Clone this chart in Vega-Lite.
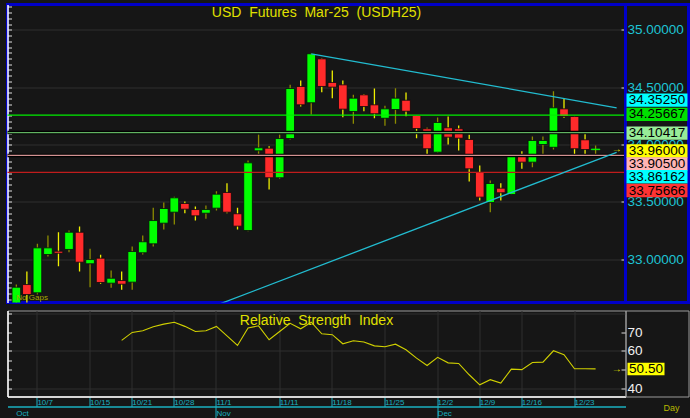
{
  "$schema": "https://vega.github.io/schema/vega-lite/v6.json",
  "background": "#161616",
  "padding": {"left": 3.5, "top": 2.5, "right": 4, "bottom": 0},
  "spacing": 5,
  "datasets": {
    "px": [
      {"d":"10/3","o":32.60,"h":32.779,"l":32.57,"c":32.756},
      {"d":"10/4","o":32.779,"h":32.893,"l":32.58,"c":32.692},
      {"d":"10/7","o":32.707,"h":33.134,"l":32.692,"c":33.099},
      {"d":"10/8","o":33.041,"h":33.207,"l":33.024,"c":33.099},
      {"d":"10/9","o":33.070,"h":33.235,"l":32.939,"c":33.052},
      {"d":"10/10","o":33.085,"h":33.250,"l":33.061,"c":33.235},
      {"d":"10/11","o":33.235,"h":33.285,"l":32.893,"c":32.974},
      {"d":"10/15","o":32.960,"h":33.091,"l":32.756,"c":32.997},
      {"d":"10/16","o":33.009,"h":33.038,"l":32.786,"c":32.797},
      {"d":"10/17","o":32.791,"h":32.901,"l":32.751,"c":32.834},
      {"d":"10/18","o":32.814,"h":32.893,"l":32.733,"c":32.782},
      {"d":"10/21","o":32.800,"h":33.111,"l":32.733,"c":33.067},
      {"d":"10/22","o":33.056,"h":33.207,"l":33.041,"c":33.152},
      {"d":"10/24","o":33.134,"h":33.448,"l":33.111,"c":33.337},
      {"d":"10/25","o":33.314,"h":33.494,"l":33.259,"c":33.442},
      {"d":"10/28","o":33.410,"h":33.545,"l":33.303,"c":33.535},
      {"d":"10/29","o":33.486,"h":33.503,"l":33.401,"c":33.436},
      {"d":"10/30","o":33.433,"h":33.459,"l":33.337,"c":33.378},
      {"d":"10/31","o":33.401,"h":33.468,"l":33.352,"c":33.433},
      {"d":"11/1","o":33.445,"h":33.593,"l":33.425,"c":33.567},
      {"d":"11/4","o":33.582,"h":33.663,"l":33.401,"c":33.410},
      {"d":"11/5","o":33.396,"h":33.448,"l":33.259,"c":33.288},
      {"d":"11/6","o":33.250,"h":33.860,"l":33.244,"c":33.840},
      {"d":"11/7","o":33.945,"h":34.087,"l":33.895,"c":33.971},
      {"d":"11/8","o":33.968,"h":33.985,"l":33.608,"c":33.710},
      {"d":"11/11","o":33.710,"h":34.087,"l":33.701,"c":34.052},
      {"d":"11/12","o":34.052,"h":34.520,"l":34.044,"c":34.488},
      {"d":"11/13","o":34.506,"h":34.558,"l":34.331,"c":34.346},
      {"d":"11/14","o":34.364,"h":34.795,"l":34.262,"c":34.791},
      {"d":"11/15","o":34.747,"h":34.752,"l":34.456,"c":34.506},
      {"d":"11/18","o":34.541,"h":34.645,"l":34.404,"c":34.500},
      {"d":"11/19","o":34.520,"h":34.558,"l":34.238,"c":34.308},
      {"d":"11/20","o":34.288,"h":34.433,"l":34.180,"c":34.404},
      {"d":"11/21","o":34.433,"h":34.440,"l":34.290,"c":34.331},
      {"d":"11/22","o":34.346,"h":34.488,"l":34.229,"c":34.268},
      {"d":"11/25","o":34.229,"h":34.337,"l":34.163,"c":34.311},
      {"d":"11/26","o":34.305,"h":34.491,"l":34.180,"c":34.404},
      {"d":"11/27","o":34.386,"h":34.453,"l":34.247,"c":34.290},
      {"d":"11/28","o":34.253,"h":34.258,"l":34.055,"c":34.139},
      {"d":"11/29","o":34.137,"h":34.145,"l":33.898,"c":33.963},
      {"d":"12/2","o":33.933,"h":34.235,"l":33.928,"c":34.192},
      {"d":"12/3","o":34.146,"h":34.244,"l":34.000,"c":34.064},
      {"d":"12/4","o":34.137,"h":34.166,"l":33.948,"c":34.055},
      {"d":"12/6","o":34.044,"h":34.085,"l":33.677,"c":33.788},
      {"d":"12/9","o":33.756,"h":33.817,"l":33.512,"c":33.541},
      {"d":"12/11","o":33.494,"h":33.686,"l":33.410,"c":33.660},
      {"d":"12/12","o":33.619,"h":33.663,"l":33.512,"c":33.579},
      {"d":"12/13","o":33.564,"h":33.910,"l":33.560,"c":33.898},
      {"d":"12/16","o":33.904,"h":33.942,"l":33.788,"c":33.846},
      {"d":"12/17","o":33.846,"h":34.070,"l":33.802,"c":34.035},
      {"d":"12/18","o":34.000,"h":34.070,"l":33.910,"c":34.035},
      {"d":"12/19","o":33.976,"h":34.465,"l":33.956,"c":34.320},
      {"d":"12/20","o":34.311,"h":34.398,"l":34.233,"c":34.244},
      {"d":"12/23","o":34.244,"h":34.248,"l":33.904,"c":33.963},
      {"d":"12/24","o":34.041,"h":34.093,"l":33.913,"c":33.956},
      {"d":"12/25","o":33.955,"h":33.991,"l":33.895,"c":33.960}
    ],
    "rsi": [
      {"d":"10/18","r":65.6},{"d":"10/21","r":69.8},{"d":"10/22","r":70.7},{"d":"10/24","r":72.8},
      {"d":"10/25","r":74.2},{"d":"10/28","r":75.2},{"d":"10/29","r":73.0},{"d":"10/30","r":70.3},
      {"d":"10/31","r":70.7},{"d":"11/1","r":73.0},{"d":"11/4","r":68.0},{"d":"11/5","r":62.9},
      {"d":"11/6","r":72.1},{"d":"11/7","r":73.3},{"d":"11/8","r":65.9},{"d":"11/11","r":70.3},
      {"d":"11/12","r":74.6},{"d":"11/13","r":71.7},{"d":"11/14","r":75.2},{"d":"11/15","r":69.1},
      {"d":"11/18","r":68.6},{"d":"11/19","r":63.8},{"d":"11/20","r":65.4},{"d":"11/21","r":64.7},
      {"d":"11/22","r":62.7},{"d":"11/25","r":62.2},{"d":"11/26","r":63.6},{"d":"11/27","r":60.6},
      {"d":"11/28","r":56.2},{"d":"11/29","r":52.3},{"d":"12/2","r":56.6},{"d":"12/3","r":53.7},
      {"d":"12/4","r":53.4},{"d":"12/6","r":47.4},{"d":"12/9","r":42.1},{"d":"12/11","r":44.8},
      {"d":"12/12","r":43.0},{"d":"12/13","r":50.4},{"d":"12/16","r":50.1},{"d":"12/17","r":53.9},
      {"d":"12/18","r":54.1},{"d":"12/19","r":60.1},{"d":"12/20","r":58.0},{"d":"12/23","r":50.6},
      {"d":"12/24","r":50.6},{"d":"12/25","r":50.5}
    ],
    "lv": [
      {"k":"L1","v":34.25667},{"k":"L2","v":34.10417},{"k":"L3","v":33.905},{"k":"L4","v":33.75666}
    ],
    "tr": [
      {"k":"TU","d":"11/14","v":34.791},{"k":"TU","d":"12/27","v":34.320},
      {"k":"TL","d":"11/1","v":32.599},{"k":"TL","d":"12/27","v":33.932}
    ],
    "tags": [
      {"k":"TU","v":34.3525},{"k":"L1","v":34.25667},{"k":"L2","v":34.10417},{"k":"LAST","v":33.96},
      {"k":"L3","v":33.905},{"k":"TL","v":33.86162},{"k":"L4","v":33.75666}
    ],
    "lastpx": [{"d":"12/27","v":33.96}],
    "rsilast": [{"d":"12/27","r":50.5}]
  },
  "vconcat": [
    {
      "hconcat": [
        {
          "width": 618,
          "height": 298,
          "view": {"stroke": "#0000c8", "strokeWidth": 3},
          "resolve": {"axis": {"y": "independent"}},
          "layer": [
            {
              "data": {"name": "px"},
              "mark": {"type": "rule", "strokeWidth": 1.3, "clip": true},
              "encoding": {
                "x": {"field": "d", "type": "ordinal",
                  "scale": {"type": "band", "domain": ["10/3","10/4","10/7","10/8","10/9","10/10","10/11","10/15","10/16","10/17","10/18","10/21","10/22","10/24","10/25","10/28","10/29","10/30","10/31","11/1","11/4","11/5","11/6","11/7","11/8","11/11","11/12","11/13","11/14","11/15","11/18","11/19","11/20","11/21","11/22","11/25","11/26","11/27","11/28","11/29","12/2","12/3","12/4","12/6","12/9","12/11","12/12","12/13","12/16","12/17","12/18","12/19","12/20","12/23","12/24","12/25","12/26","12/27"], "paddingInner": 0, "paddingOuter": 0.34},
                  "axis": {"values": ["10/7","10/15","10/21","10/28","11/1","11/11","11/18","11/25","12/2","12/9","12/16","12/23"], "grid": true, "gridColor": "#2f2f2f", "bandPosition": 0.5, "labels": false, "ticks": false, "domain": false, "title": null, "maxExtent": 0}},
                "y": {"field": "l", "type": "quantitative",
                  "scale": {"domain": [32.6225, 35.2206], "nice": false, "zero": false},
                  "axis": {"orient": "left", "title": null, "labels": false, "tickSize": -4, "tickColor": "#e0e0e0", "domainColor": "#ffffff", "domainWidth": 1.5, "minExtent": 0, "maxExtent": 0,
                    "values": [32.65,32.7,32.75,32.8,32.85,32.9,32.95,33,33.05,33.1,33.15,33.2,33.25,33.3,33.35,33.4,33.45,33.5,33.55,33.6,33.65,33.7,33.75,33.8,33.85,33.9,33.95,34,34.05,34.1,34.15,34.2,34.25,34.3,34.35,34.4,34.45,34.5,34.55,34.6,34.65,34.7,34.75,34.8,34.85,34.9,34.95,35,35.05,35.1,35.15,35.2],
                    "grid": true, "gridColor": "#2f2f2f",
                    "gridOpacity": {"condition": {"test": "abs(datum.value*2-round(datum.value*2))<0.001", "value": 1}, "value": 0}}},
                "y2": {"field": "h"},
                "color": {"condition": {"test": "datum.c >= datum.o", "value": "#8c8c00"}, "value": "#f0f000"}
              }
            },
            {
              "data": {"name": "px"},
              "mark": {"type": "bar", "width": {"band": 0.82}, "clip": true, "strokeWidth": 0.8},
              "encoding": {
                "x": {"field": "d", "type": "ordinal", "axis": null},
                "y": {"field": "o", "type": "quantitative",
                  "axis": {"orient": "right", "title": null, "domain": false, "grid": false, "tickSize": -4.5, "tickColor": "#d8d8d8",
                    "values": [33, 33.5, 34, 34.5, 35], "format": ".5f",
                    "labelAlign": "left", "labelPadding": 6, "labelColor": "#1ec4d4", "labelFontSize": 13.5, "labelOverlap": false}},
                "y2": {"field": "c"},
                "fill": {"condition": {"test": "datum.c >= datum.o", "value": "#00ff00"}, "value": "#ff2a2a"},
                "stroke": {"condition": {"test": "abs(datum.c-datum.o)<0.01", "value": "#00ff00"}, "value": "#0a0a0a"}
              }
            },
            {
              "data": {"name": "lv"},
              "transform": [{"filter": "datum.k==='L2' || datum.k==='L3'"}],
              "mark": {"type": "rule", "strokeWidth": 3.5, "color": "#000000"},
              "encoding": {"y": {"field": "v", "type": "quantitative", "axis": null}}
            },
            {
              "data": {"name": "lv"},
              "mark": {"type": "rule", "strokeWidth": 1.3},
              "encoding": {
                "y": {"field": "v", "type": "quantitative", "axis": null},
                "stroke": {"field": "k", "type": "nominal", "legend": null,
                  "scale": {"domain": ["L1","L2","L3","L4"], "range": ["#00ee00","#62b262","#d29292","#c01c1c"]}}
              }
            },
            {
              "data": {"name": "tr"},
              "mark": {"type": "line", "clip": true, "strokeWidth": 1.3, "color": "#22bcd0"},
              "encoding": {
                "x": {"field": "d", "type": "ordinal", "axis": null},
                "y": {"field": "v", "type": "quantitative", "axis": null},
                "detail": {"field": "k"}
              }
            },
            {
              "data": {"name": "lastpx"},
              "mark": {"type": "text", "text": "→", "fontSize": 10, "color": "#e0e000", "baseline": "middle"},
              "encoding": {
                "x": {"field": "d", "type": "ordinal", "axis": null},
                "y": {"field": "v", "type": "quantitative", "axis": null}
              }
            },
            {
              "data": {"values": [{}]},
              "mark": {"type": "text", "text": "USD\u00a0 Futures\u00a0 Mar-25\u00a0 (USDH25)", "fontSize": 14, "color": "#e0e000", "baseline": "alphabetic", "dy": 12},
              "encoding": {"y": {"datum": 35.2206, "type": "quantitative", "axis": null}}
            },
            {
              "data": {"values": [{}]},
              "mark": {"type": "text", "text": "No Gaps", "fontSize": 8, "color": "#a8a800", "align": "left", "baseline": "bottom", "dy": -1},
              "encoding": {
                "x": {"datum": "10/3", "type": "ordinal", "axis": null},
                "y": {"datum": 32.6225, "type": "quantitative", "axis": null}
              }
            }
          ]
        },
        {
          "width": 63,
          "height": 298,
          "view": {"stroke": "#0000c8", "strokeWidth": 3},
          "data": {"name": "tags"},
          "layer": [
            {
              "mark": {"type": "tick", "orient": "horizontal", "thickness": 13.3, "opacity": 1,
                "yOffset": {"expr": "datum.k==='TU'?-3.9:datum.k==='L1'?-0.6:datum.k==='L2'?0.6:datum.k==='LAST'?1.9:datum.k==='L3'?8.4:datum.k==='TL'?16.4:18.1"}},
              "encoding": {
                "y": {"field": "v", "type": "quantitative",
                  "scale": {"domain": [32.6225, 35.2206], "nice": false, "zero": false},
                  "axis": {"orient": "left", "title": null, "labels": false, "grid": false, "tickSize": 3, "tickColor": "#d8d8d8",
                    "values": [32.65,32.7,32.75,32.8,32.85,32.9,32.95,33,33.05,33.1,33.15,33.2,33.25,33.3,33.35,33.4,33.45,33.5,33.55,33.6,33.65,33.7,33.75,33.8,33.85,33.9,33.95,34,34.05,34.1,34.15,34.2,34.25,34.3,34.35,34.4,34.45,34.5,34.55,34.6,34.65,34.7,34.75,34.8,34.85,34.9,34.95,35,35.05,35.1,35.15,35.2],
                    "domainColor": "#ffffff", "domainWidth": 2.5, "minExtent": 0, "maxExtent": 0}},
                "size": {"value": 61},
                "fill": {"field": "k", "type": "nominal", "legend": null,
                  "scale": {"domain": ["TU","L1","L2","LAST","L3","TL","L4"], "range": ["#00ffff","#00e000","#98ec98","#ffff00","#ffb4b4","#00ffff","#ff3333"]}}
              }
            },
            {
              "mark": {"type": "text", "fontSize": 13.5, "color": "#000000", "baseline": "middle",
                "yOffset": {"expr": "datum.k==='TU'?-3.9:datum.k==='L1'?-0.6:datum.k==='L2'?0.6:datum.k==='LAST'?1.9:datum.k==='L3'?8.4:datum.k==='TL'?16.4:18.1"}},
              "encoding": {
                "y": {"field": "v", "type": "quantitative", "axis": null},
                "text": {"field": "v", "type": "quantitative", "format": ".5f"}
              }
            }
          ]
        }
      ],
      "spacing": 0,
      "bounds": "flush"
    },
    {
      "hconcat": [
        {
          "width": 618,
          "height": 86,
          "view": {"stroke": "#9a9a9a", "strokeWidth": 1},
          "resolve": {"axis": {"x": "independent", "y": "independent"}},
          "layer": [
            {
              "data": {"name": "rsi"},
              "mark": {"type": "line", "color": "#d0d000", "strokeWidth": 1.1},
              "encoding": {
                "x": {"field": "d", "type": "ordinal",
                  "scale": {"type": "band", "domain": ["10/3","10/4","10/7","10/8","10/9","10/10","10/11","10/15","10/16","10/17","10/18","10/21","10/22","10/24","10/25","10/28","10/29","10/30","10/31","11/1","11/4","11/5","11/6","11/7","11/8","11/11","11/12","11/13","11/14","11/15","11/18","11/19","11/20","11/21","11/22","11/25","11/26","11/27","11/28","11/29","12/2","12/3","12/4","12/6","12/9","12/11","12/12","12/13","12/16","12/17","12/18","12/19","12/20","12/23","12/24","12/25","12/26","12/27"], "paddingInner": 0, "paddingOuter": 0.34},
                  "axis": {"orient": "bottom", "values": ["10/7","10/15","10/21","10/28","11/1","11/11","11/18","11/25","12/2","12/9","12/16","12/23"], "title": null,
                    "grid": true, "gridColor": "#2f2f2f", "bandPosition": 0.5,
                    "domainColor": "#ffffff", "domainWidth": 1.5, "tickColor": "#1ab0c0", "tickSize": 10,
                    "labelColor": "#1ab0c0", "labelFontSize": 8, "labelAlign": "left", "labelBaseline": "top", "labelPadding": -8, "labelDx": 1.5, "labelAngle": 0,
                    "labelOverlap": false, "labelBound": false, "labelFlush": false}},
                "y": {"field": "r", "type": "quantitative",
                  "scale": {"domain": [35.9, 81.4], "nice": false, "zero": false},
                  "axis": {"orient": "left", "title": null, "labels": false, "values": [40,45,50,55,60,65,70,75,80], "tickSize": -4, "tickColor": "#e0e0e0", "minExtent": 0, "maxExtent": 0,
                    "domainColor": "#ffffff", "domainWidth": 1.5, "grid": true, "gridColor": "#2f2f2f",
                    "gridOpacity": {"condition": {"test": "datum.value % 20 === 0", "value": 1}, "value": 0}}}
              }
            },
            {
              "data": {"name": "rsilast"},
              "mark": {"type": "text", "text": "→", "fontSize": 10, "color": "#e0e000", "baseline": "middle"},
              "encoding": {
                "x": {"field": "d", "type": "ordinal",
                  "axis": {"orient": "bottom", "offset": 10, "values": ["10/3","11/1","12/2"], "title": null, "grid": false, "bandPosition": 0.5,
                    "labelExpr": "datum.value==='10/3' ? 'Oct' : datum.value==='11/1' ? 'Nov' : 'Dec'",
                    "domainColor": "#1ab0c0", "domainWidth": 1.5, "tickColor": "#1ab0c0", "tickSize": 13,
                    "tickOpacity": {"condition": {"test": "datum.value==='10/3'", "value": 0}, "value": 1},
                    "labelColor": "#1ab0c0", "labelFontSize": 8, "labelAlign": "left", "labelBaseline": "top", "labelPadding": -10, "labelDx": 1, "labelAngle": 0,
                    "labelOverlap": false, "labelBound": false, "labelFlush": false}},
                "y": {"field": "r", "type": "quantitative",
                  "axis": {"orient": "right", "title": null, "domain": false, "grid": false, "tickSize": -4.5, "tickColor": "#d8d8d8",
                    "values": [40, 50, 60, 70],
                    "labelAlign": "left", "labelPadding": 6, "labelColor": "#f0f0f0", "labelFontSize": 13.5, "labelOverlap": false}}
              }
            },
            {
              "data": {"values": [{}]},
              "mark": {"type": "text", "text": "Relative\u00a0 Strength\u00a0 Index", "fontSize": 14, "color": "#e0e000", "baseline": "alphabetic", "dy": 14},
              "encoding": {"y": {"datum": 81.4, "type": "quantitative", "axis": null}}
            }
          ]
        },
        {
          "width": 63,
          "height": 86,
          "view": {"stroke": "#9a9a9a", "strokeWidth": 1},
          "data": {"name": "rsilast"},
          "title": {"text": "Day", "orient": "bottom", "anchor": "end", "baseline": "top", "offset": 7, "dx": -9, "fontSize": 9, "fontWeight": "normal", "color": "#b8b800"},
          "layer": [
            {
              "mark": {"type": "tick", "orient": "horizontal", "thickness": 12.5, "opacity": 1, "color": "#ffff00", "xOffset": -11},
              "encoding": {
                "y": {"field": "r", "type": "quantitative",
                  "scale": {"domain": [35.9, 81.4], "nice": false, "zero": false},
                  "axis": {"orient": "left", "title": null, "labels": false, "grid": false, "tickSize": 3, "tickColor": "#d8d8d8",
                    "values": [40,45,50,55,60,65,70,75,80],
                    "domainColor": "#ffffff", "domainWidth": 2.5, "minExtent": 0, "maxExtent": 0}},
                "size": {"value": 37}
              }
            },
            {
              "mark": {"type": "text", "fontSize": 13.5, "color": "#000000", "baseline": "middle", "xOffset": -11},
              "encoding": {
                "y": {"field": "r", "type": "quantitative", "axis": null},
                "text": {"field": "r", "type": "quantitative", "format": ".2f"}
              }
            }
          ]
        }
      ],
      "spacing": 0,
      "bounds": "flush"
    }
  ],
  "config": {
    "font": "Liberation Sans",
    "view": {"stroke": null},
    "axis": {"labelFont": "Liberation Sans"},
    "group": {"strokeForeground": false}
  }
}
